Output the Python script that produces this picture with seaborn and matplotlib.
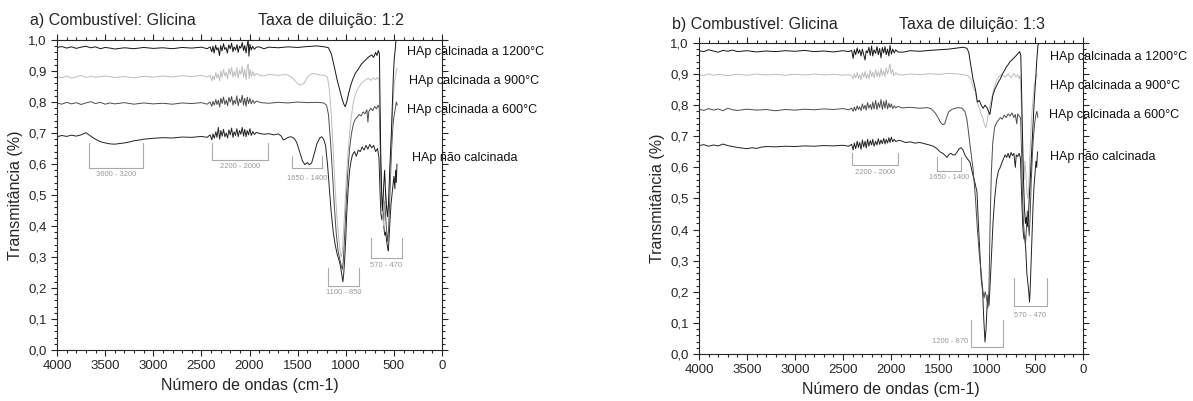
import numpy as np
import pandas as pd
import matplotlib
matplotlib.use("Agg")
import matplotlib.pyplot as plt
from matplotlib.ticker import MultipleLocator, FuncFormatter
import seaborn as sns

# ---- dados: (número de ondas, transmitância) ----
# painel a) diluição 1:2
a_1200 = [(4000,0.976),(3950,0.979),(3900,0.974),(3850,0.978),(3800,0.973),(3750,0.977),(3700,0.980),(3650,0.975),
          (3600,0.978),(3550,0.972),(3500,0.976),(3450,0.974),(3400,0.971),(3300,0.975),(3200,0.972),(3100,0.976),
          (3000,0.973),(2900,0.975),(2800,0.972),(2700,0.976),(2600,0.974),(2500,0.977),
          (2440,0.972),(2410,0.978),(2392,0.962),(2380,0.980),(2368,0.958),(2352,0.983),(2340,0.968),(2326,0.975),
          (2312,0.950),(2300,0.982),(2286,0.965),(2270,0.988),(2258,0.970),(2244,0.976),(2230,0.958),(2216,0.984),
          (2200,0.972),(2186,0.990),(2172,0.962),(2160,0.978),(2144,0.968),(2130,0.985),(2118,0.960),(2104,0.980),
          (2090,0.974),(2076,0.992),(2062,0.966),(2050,0.982),(2036,0.958),(2024,0.985),(2014,1.000),(2006,0.948),
          (1996,0.986),(1982,0.968),(1968,0.980),(1950,0.970),(1930,0.977),
          (1900,0.978),(1850,0.972),(1800,0.977),(1700,0.975),(1600,0.978),(1500,0.976),(1400,0.979),
          (1300,0.981),(1220,0.978),(1180,0.975),(1150,0.955),(1120,0.915),(1090,0.872),(1060,0.836),(1040,0.812),
          (1020,0.793),(1005,0.785),(990,0.800),(970,0.828),(950,0.852),(930,0.871),(900,0.893),(870,0.906),
          (840,0.921),(800,0.934),(760,0.946),(730,0.952),(710,0.944),(690,0.960),(675,0.950),(662,0.966),
          (650,0.955),(644,0.80),(636,0.62),(626,0.50),(616,0.45),(606,0.53),(596,0.58),(586,0.50),(576,0.46),
          (566,0.43),(556,0.47),(546,0.56),(536,0.63),(526,0.70),(516,0.79),(506,0.88),(496,0.94),(486,0.97),(478,1.00)]
a_900 = [(4000,0.882),(3950,0.878),(3900,0.884),(3850,0.877),(3800,0.881),(3750,0.886),(3700,0.879),(3650,0.883),
         (3600,0.880),(3500,0.884),(3400,0.879),(3300,0.882),(3200,0.878),(3100,0.883),(3000,0.880),(2900,0.884),
         (2800,0.881),(2700,0.885),(2600,0.882),(2500,0.886),
         (2440,0.880),(2410,0.886),(2392,0.868),(2380,0.884),(2366,0.872),(2350,0.895),(2338,0.878),(2324,0.890),
         (2310,0.868),(2298,0.900),(2284,0.880),(2270,0.905),(2256,0.884),(2242,0.896),(2228,0.875),(2214,0.908),
         (2200,0.888),(2186,0.912),(2172,0.880),(2160,0.898),(2146,0.884),(2132,0.910),(2118,0.878),(2104,0.902),
         (2090,0.890),(2076,0.915),(2062,0.880),(2050,0.905),(2036,0.872),(2024,0.912),(2014,0.922),(2004,0.875),
         (1994,0.905),(1980,0.882),(1966,0.898),(1950,0.884),(1930,0.892),
         (1890,0.886),(1850,0.884),(1800,0.889),(1700,0.886),(1620,0.889),(1560,0.880),(1520,0.866),(1490,0.857),(1460,0.855),
         (1430,0.862),(1400,0.880),(1370,0.889),(1330,0.892),(1280,0.888),(1220,0.886),(1190,0.880),(1170,0.840),
         (1150,0.760),(1130,0.640),(1110,0.520),(1090,0.420),(1070,0.350),(1055,0.310),(1045,0.300),(1035,0.320),
         (1020,0.400),(1000,0.520),(980,0.620),(960,0.700),(940,0.760),(920,0.800),(900,0.825),(870,0.845),
         (840,0.860),(800,0.870),(770,0.877),(740,0.870),(710,0.878),(690,0.872),(670,0.880),(655,0.870),
         (645,0.760),(635,0.600),(625,0.480),(615,0.420),(605,0.400),(595,0.460),(585,0.520),(575,0.470),
         (565,0.440),(555,0.470),(545,0.540),(535,0.620),(525,0.690),(515,0.760),(505,0.820),(495,0.860),
         (485,0.880),(475,0.900),(465,0.910)]
a_600 = [(4000,0.797),(3950,0.793),(3900,0.799),(3850,0.794),(3800,0.798),(3750,0.792),(3700,0.797),(3650,0.801),
         (3600,0.795),(3550,0.799),(3500,0.793),(3450,0.797),(3400,0.794),(3300,0.798),(3200,0.793),(3100,0.797),
         (3000,0.794),(2900,0.796),(2800,0.793),(2700,0.797),(2600,0.795),(2500,0.798),
         (2440,0.793),(2410,0.800),(2392,0.786),(2380,0.802),(2366,0.790),(2350,0.808),(2338,0.792),(2324,0.805),
         (2310,0.784),(2298,0.812),(2284,0.795),(2270,0.816),(2256,0.792),(2242,0.806),(2228,0.788),(2214,0.815),
         (2200,0.800),(2186,0.818),(2172,0.790),(2160,0.806),(2146,0.794),(2132,0.820),(2118,0.788),(2104,0.810),
         (2090,0.798),(2076,0.822),(2062,0.790),(2050,0.812),(2036,0.786),(2024,0.816),(2010,0.795),(1996,0.812),
         (1982,0.794),(1966,0.806),(1950,0.796),(1930,0.803),
         (1880,0.798),(1800,0.796),(1700,0.799),(1600,0.797),(1500,0.800),(1400,0.798),(1300,0.799),(1230,0.797),
         (1200,0.790),(1180,0.760),(1160,0.680),(1140,0.580),(1120,0.470),(1100,0.380),(1080,0.320),(1060,0.290),
         (1045,0.270),(1035,0.260),(1025,0.290),(1010,0.380),(995,0.480),(980,0.570),(960,0.650),(940,0.700),
         (920,0.730),(900,0.745),(880,0.752),(860,0.760),(840,0.755),(820,0.768),(800,0.762),(780,0.775),
         (770,0.735),(760,0.770),(740,0.780),(720,0.772),(700,0.786),(680,0.778),(665,0.790),(652,0.780),
         (645,0.700),(635,0.560),(625,0.470),(615,0.430),(605,0.420),(595,0.480),(585,0.430),(575,0.380),
         (565,0.350),(555,0.390),(545,0.470),(535,0.560),(525,0.640),(515,0.700),(505,0.740),(495,0.760),
         (485,0.780),(475,0.800),(465,0.790)]
a_nao = [(4000,0.688),(3950,0.692),(3900,0.689),(3850,0.693),(3800,0.690),(3750,0.694),(3700,0.701),(3650,0.690),
         (3600,0.680),(3550,0.672),(3500,0.668),(3450,0.665),(3400,0.664),(3350,0.666),(3300,0.668),(3250,0.671),
         (3200,0.675),(3150,0.677),(3100,0.680),(3000,0.683),(2900,0.685),(2800,0.684),(2700,0.687),(2600,0.686),
         (2500,0.689),
         (2440,0.686),(2410,0.694),(2392,0.678),(2380,0.697),(2366,0.683),(2350,0.704),(2338,0.686),(2324,0.718),
         (2310,0.680),(2298,0.708),(2284,0.690),(2270,0.712),(2256,0.688),(2242,0.700),(2228,0.684),(2214,0.710),
         (2200,0.694),(2186,0.716),(2172,0.686),(2160,0.704),(2146,0.692),(2132,0.714),(2118,0.688),(2104,0.708),
         (2090,0.696),(2076,0.718),(2062,0.690),(2050,0.712),(2036,0.688),(2024,0.708),(2010,0.694),(1996,0.714),
         (1982,0.692),(1966,0.705),(1950,0.695),(1930,0.702),
         (1900,0.699),(1850,0.696),(1800,0.698),(1750,0.694),(1700,0.697),(1670,0.690),
         (1650,0.678),(1630,0.680),(1600,0.686),(1570,0.688),(1540,0.684),(1510,0.670),(1480,0.640),(1450,0.610),
         (1425,0.598),(1400,0.605),(1380,0.598),(1355,0.603),(1330,0.630),(1300,0.665),(1270,0.684),(1250,0.688),
         (1230,0.680),(1210,0.660),(1190,0.600),(1170,0.520),(1150,0.440),(1130,0.380),(1110,0.340),(1090,0.310),
         (1070,0.290),(1055,0.270),(1040,0.240),(1030,0.220),(1020,0.250),(1010,0.300),(1000,0.360),(990,0.440),
         (975,0.520),(960,0.580),(945,0.610),(930,0.630),(910,0.640),(890,0.625),(870,0.645),(850,0.640),
         (830,0.655),(810,0.645),(790,0.660),(770,0.648),(750,0.663),(730,0.652),(710,0.660),(690,0.640),
         (670,0.650),(655,0.620),(645,0.520),(635,0.440),(625,0.420),(615,0.450),(605,0.400),(595,0.370),
         (585,0.380),(575,0.350),(565,0.330),(558,0.320),(550,0.360),(540,0.420),(530,0.470),(520,0.500),
         (510,0.530),(500,0.560),(490,0.520),(482,0.580),(475,0.540),(468,0.600)]

# painel b) diluição 1:3
b_1200 = [(4000,0.975),(3950,0.972),(3900,0.978),(3850,0.974),(3800,0.970),(3750,0.976),(3700,0.973),(3650,0.977),
          (3600,0.972),(3500,0.975),(3400,0.971),(3300,0.974),(3200,0.972),(3100,0.975),(3000,0.973),(2900,0.976),
          (2800,0.972),(2700,0.974),(2600,0.971),(2500,0.975),
          (2440,0.972),(2410,0.976),(2394,0.950),(2382,0.978),(2368,0.962),(2352,0.984),(2340,0.966),(2326,0.978),
          (2312,0.958),(2298,0.980),(2284,0.962),(2270,0.945),(2258,0.975),(2244,0.968),(2230,0.986),(2216,0.960),
          (2202,0.990),(2190,0.958),(2176,0.978),(2160,0.966),(2146,0.988),(2132,0.962),(2118,0.982),(2104,0.952),
          (2090,0.985),(2076,0.968),(2062,0.988),(2050,0.962),(2036,0.980),(2022,0.958),(2010,0.992),(1996,0.964),
          (1982,0.980),(1966,0.968),(1950,0.978),(1930,0.971),
          (1880,0.970),(1800,0.975),(1700,0.973),(1600,0.976),(1500,0.978),(1400,0.980),(1300,0.984),(1250,0.986),
          (1210,0.983),(1190,0.970),
          (1170,0.930),(1146,0.885),(1120,0.850),(1100,0.810),(1080,0.815),(1060,0.800),(1040,0.790),(1020,0.800),
          (1000,0.792),(985,0.780),(970,0.770),(955,0.800),(940,0.830),(920,0.850),(900,0.862),(880,0.875),
          (860,0.885),(840,0.900),(820,0.910),(800,0.922),(780,0.930),(760,0.940),(740,0.945),(720,0.952),
          (700,0.958),(680,0.965),(660,0.972),(648,0.960),(640,0.850),(630,0.700),(620,0.560),(610,0.470),
          (600,0.420),(590,0.440),(580,0.410),(570,0.430),(560,0.500),(550,0.560),(540,0.620),(530,0.680),
          (520,0.740),(510,0.800),(500,0.850),(490,0.900),(480,0.950),(470,0.990),(462,1.000)]
b_900 = [(4000,0.898),(3950,0.895),(3900,0.900),(3850,0.896),(3800,0.899),(3700,0.895),(3600,0.899),(3500,0.896),
         (3400,0.900),(3300,0.897),(3200,0.899),(3100,0.896),(3000,0.899),(2900,0.897),(2800,0.900),(2700,0.897),
         (2600,0.899),(2500,0.896),
         (2440,0.898),(2410,0.894),(2394,0.884),(2382,0.900),(2368,0.888),(2352,0.905),(2340,0.886),(2326,0.898),
         (2312,0.882),(2298,0.904),(2284,0.890),(2270,0.908),(2258,0.886),(2244,0.900),(2230,0.884),(2216,0.912),
         (2202,0.892),(2190,0.906),(2176,0.888),(2160,0.914),(2146,0.892),(2132,0.908),(2118,0.890),(2104,0.918),
         (2090,0.895),(2076,0.910),(2062,0.892),(2050,0.920),(2036,0.900),(2022,0.915),(2010,0.932),(1998,0.900),
         (1984,0.915),(1970,0.894),(1950,0.904),(1930,0.898),
         (1880,0.897),(1800,0.900),(1700,0.898),(1600,0.901),
         (1500,0.899),(1400,0.902),(1300,0.900),(1250,0.898),(1200,0.895),(1170,0.885),(1146,0.860),(1120,0.840),
         (1104,0.810),(1080,0.790),(1060,0.770),(1040,0.755),(1025,0.735),(1012,0.727),(1000,0.745),(985,0.775),
         (970,0.800),(950,0.823),(930,0.850),(900,0.880),(870,0.893),(840,0.898),(810,0.890),(780,0.900),
         (750,0.888),(720,0.902),(700,0.890),(680,0.898),(665,0.886),(655,0.895),(645,0.830),(635,0.700),
         (625,0.600),(615,0.560),(605,0.620),(595,0.580),(585,0.520),(575,0.500),(565,0.540),(555,0.620),
         (545,0.700),(535,0.760),(525,0.800),(515,0.840),(505,0.870),(495,0.880),(485,0.895),(475,0.900)]
b_600 = [(4000,0.787),(3950,0.783),(3900,0.789),(3850,0.784),(3800,0.788),(3750,0.782),(3700,0.790),(3650,0.785),
         (3600,0.783),(3500,0.787),(3400,0.784),(3300,0.786),(3200,0.782),(3100,0.786),(3000,0.784),(2900,0.787),
         (2800,0.785),(2700,0.788),(2600,0.786),(2500,0.789),
         (2440,0.785),(2410,0.790),(2394,0.780),(2382,0.794),(2368,0.782),(2352,0.798),(2340,0.786),(2326,0.795),
         (2312,0.782),(2298,0.804),(2284,0.788),(2270,0.800),(2258,0.784),(2244,0.808),(2230,0.790),(2216,0.802),
         (2202,0.786),(2190,0.810),(2176,0.788),(2160,0.815),(2146,0.786),(2132,0.808),(2118,0.792),(2104,0.818),
         (2090,0.786),(2076,0.812),(2062,0.790),(2050,0.816),(2036,0.788),(2022,0.806),(2010,0.792),(1996,0.804),
         (1982,0.789),(1966,0.798),(1950,0.791),(1930,0.796),
         (1880,0.791),(1800,0.793),
         (1700,0.790),(1620,0.792),(1580,0.788),(1540,0.775),(1510,0.760),(1485,0.745),(1460,0.737),(1440,0.740),
         (1420,0.760),(1400,0.778),(1370,0.786),(1330,0.790),(1300,0.792),(1260,0.790),(1230,0.780),(1210,0.755),
         (1198,0.727),(1180,0.680),(1160,0.630),(1146,0.598),(1120,0.500),(1100,0.400),(1080,0.320),(1060,0.260),
         (1042,0.200),(1030,0.180),(1020,0.200),(1010,0.190),(1000,0.170),(990,0.148),(980,0.200),(969,0.400),
         (955,0.580),(940,0.680),(920,0.730),(896,0.746),(880,0.752),(860,0.760),(840,0.755),(820,0.768),
         (800,0.760),(780,0.772),(760,0.765),(740,0.775),(720,0.760),(705,0.770),(690,0.740),(680,0.772),
         (665,0.765),(650,0.760),(640,0.650),(630,0.500),(620,0.420),(610,0.380),(600,0.350),(590,0.400),
         (580,0.460),(570,0.420),(560,0.380),(550,0.450),(540,0.550),(530,0.620),(520,0.680),(510,0.720),
         (500,0.750),(490,0.770),(480,0.780),(470,0.760)]
b_nao = [(4000,0.670),(3950,0.673),(3900,0.668),(3850,0.672),(3800,0.669),(3750,0.675),(3700,0.670),(3650,0.667),
         (3600,0.664),(3550,0.662),(3500,0.660),(3450,0.663),(3400,0.661),(3350,0.665),(3300,0.667),(3200,0.666),
         (3100,0.668),(3000,0.667),(2900,0.669),(2800,0.668),(2700,0.670),(2600,0.669),(2500,0.671),
         (2440,0.668),(2410,0.674),(2394,0.656),(2382,0.678),(2368,0.660),(2352,0.684),(2340,0.664),(2326,0.680),
         (2312,0.658),(2298,0.688),(2284,0.666),(2270,0.684),(2258,0.662),(2244,0.690),(2230,0.668),(2216,0.686),
         (2202,0.672),(2190,0.690),(2176,0.668),(2160,0.684),(2146,0.672),(2132,0.692),(2118,0.674),(2104,0.688),
         (2090,0.676),(2076,0.693),(2062,0.675),(2050,0.690),(2036,0.678),(2022,0.695),(2010,0.680),(1996,0.697),
         (1982,0.682),(1966,0.690),(1950,0.683),(1930,0.686),
         (1900,0.686),(1850,0.680),(1800,0.682),(1750,0.678),(1700,0.680),(1650,0.676),(1600,0.672),(1560,0.668),
         (1520,0.660),(1490,0.650),(1460,0.645),(1435,0.638),(1417,0.632),(1395,0.642),(1375,0.645),(1355,0.640),
         (1333,0.640),(1310,0.650),(1290,0.660),(1270,0.663),(1250,0.656),(1230,0.640),(1210,0.630),(1190,0.622),
         (1177,0.617),(1150,0.580),(1125,0.550),(1104,0.520),(1090,0.420),(1073,0.318),(1060,0.240),(1045,0.200),
         (1035,0.120),(1021,0.039),(1010,0.080),(1000,0.150),(990,0.190),(979,0.157),(965,0.240),(950,0.340),
         (937,0.424),(920,0.500),(900,0.560),(880,0.590),(865,0.598),(845,0.615),(825,0.630),(812,0.640),
         (795,0.632),(780,0.645),(765,0.630),(750,0.648),(735,0.638),(720,0.645),(705,0.600),(695,0.640),
         (680,0.635),(665,0.645),(652,0.630),(645,0.560),(635,0.470),(625,0.400),(615,0.370),(604,0.380),
         (595,0.330),(585,0.260),(575,0.230),(565,0.200),(557,0.167),(550,0.210),(540,0.300),(530,0.400),
         (520,0.480),(510,0.540),(500,0.580),(490,0.620),(482,0.600),(474,0.650)]

series_names = ["HAp não calcinada", "HAp calcinada a 600°C", "HAp calcinada a 900°C", "HAp calcinada a 1200°C"]
series_colors = ["#222222", "#4d4d4d", "#bdbdbd", "#151515"]

# rótulos das curvas (posição em número de ondas, transmitância)
a_label_w = [312, 364, 345, 364]
a_label_t = [0.619, 0.774, 0.868, 0.961]
b_label_w = [344, 354, 344, 344]
b_label_t = [0.633, 0.768, 0.862, 0.955]

# faixas marcadas: (início, fim, topo, base, texto, x do texto, y do texto)
a_bands = [(3668, 3106, 0.668, 0.587, "3600 - 3200", 3387, 0.567),
           (2390, 1808, 0.668, 0.613, "2200 - 2000", 2100, 0.592),
           (1558, 1247, 0.626, 0.587, "1650 - 1400", 1403, 0.553),
           (1184, 862, 0.264, 0.206, "1100 - 850", 1023, 0.184),
           (738, 416, 0.361, 0.297, "570 - 470", 577, 0.272)]
b_bands = [(2406, 1927, 0.646, 0.608, "2200 - 2000", 2167, 0.585),
           (1521, 1271, 0.633, 0.588, "1650 - 1400", 1396, 0.569),
           (1167, 833, 0.109, 0.023, "1200 - 870", 1600, 0.039),
           (719, 375, 0.244, 0.154, "570 - 470", 547, 0.125)]

sns.set_style("ticks")
plt.rcParams['font.family'] = ['Liberation Sans', 'DejaVu Sans']

fig = plt.figure(figsize=(11.93, 4.01), dpi=100)
ax_a = fig.add_axes([0.0478, 0.1272, 0.3227, 0.773])
ax_b = fig.add_axes([0.5859, 0.117, 0.3219, 0.776])


def draw_panel(ax, curves, label_w, label_t, bands):
    for pts, name, col in zip(curves, series_names, series_colors):
        df = pd.DataFrame(pts, columns=["w", "t"])
        sns.lineplot(data=df, x="w", y="t", ax=ax, color=col, lw=0.7,
                     sort=False, estimator=None)
    for name, w, t in zip(series_names, label_w, label_t):
        ax.text(w, t, name, fontsize=9, va="center", ha="left", color="#111111")
    for lo, hi, top, bot, txt, tx, ty in bands:
        ax.plot([lo, lo, hi, hi], [top, bot, bot, top], color="#aaaaaa", lw=0.8)
        ax.text(tx, ty, txt, fontsize=5.5, color="#999999", ha="center", va="center")
    ax.set_xlim(4000, 0)
    ax.set_ylim(0, 1)
    ax.xaxis.set_major_locator(MultipleLocator(500))
    ax.xaxis.set_minor_locator(MultipleLocator(100))
    ax.yaxis.set_major_locator(MultipleLocator(0.1))
    ax.yaxis.set_minor_locator(MultipleLocator(0.02))
    ax.yaxis.set_major_formatter(FuncFormatter(lambda v, p: f"{v:.1f}".replace(".", ",")))
    ax.tick_params(which="both", direction="out", top=True, right=True, labelsize=9.5, width=0.8)
    ax.tick_params(which="major", length=4)
    ax.tick_params(which="minor", length=2.5)
    for s in ax.spines.values():
        s.set_linewidth(0.8)
    ax.set_xlabel("Número de ondas (cm-1)", fontsize=11.5, labelpad=4)
    ax.set_ylabel("Transmitância (%)", fontsize=11.5, labelpad=4)


draw_panel(ax_a, [a_nao, a_600, a_900, a_1200], a_label_w, a_label_t, a_bands)
draw_panel(ax_b, [b_nao, b_600, b_900, b_1200], b_label_w, b_label_t, b_bands)
# o texto da faixa 1200 - 870 fica à esquerda do colchete
ax_b.texts[-2].set_ha("right")
ax_b.texts[-2].set_x(1200)

fig.text(30 / 1193, 0.948, "a) Combustível: Glicina", fontsize=11.5, va="center")
fig.text(258 / 1193, 0.948, "Taxa de diluição: 1:2", fontsize=11.5, va="center")
fig.text(672 / 1193, 0.940, "b) Combustível: Glicina", fontsize=11.5, va="center")
fig.text(899 / 1193, 0.940, "Taxa de diluição: 1:3", fontsize=11.5, va="center")

fig.savefig("out.png", dpi=100)
